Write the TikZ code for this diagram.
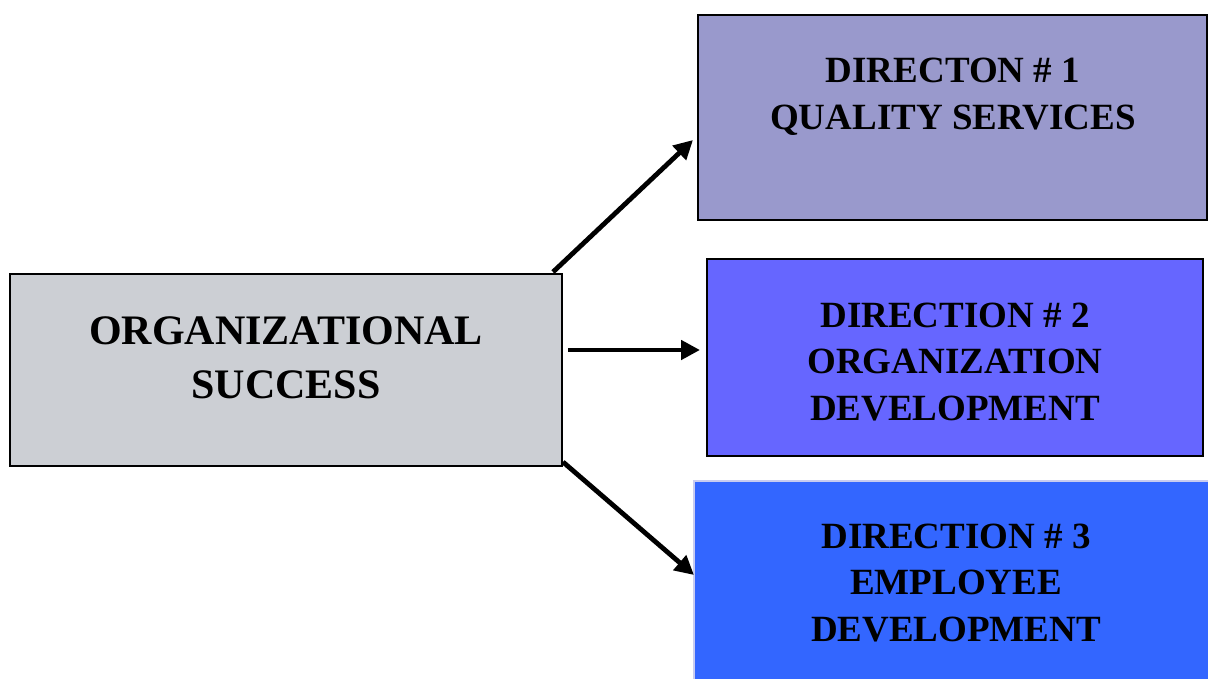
\documentclass[tikz,border=0pt]{standalone}
\usepackage{fontspec}
\setmainfont{Liberation Serif}
\usetikzlibrary{arrows.meta}
\definecolor{cgray}{HTML}{CCCFD4}
\definecolor{cone}{HTML}{9999CC}
\definecolor{ctwo}{HTML}{6666FF}
\definecolor{cthree}{HTML}{3366FF}
\definecolor{cthreeb}{HTML}{C8CCF0}
\begin{document}
\begin{tikzpicture}[x=1pt,y=-1pt,
  boxstyle/.style={draw=black,line width=1.6pt},
  bigtext/.style={font=\fontsize{42}{54}\selectfont\bfseries,align=center,inner sep=0pt},
  dirtext/.style={font=\fontsize{37}{46.5}\selectfont\bfseries,align=center,inner sep=0pt},
  arr/.style={line width=4.8pt,-{Triangle[length=19pt,width=19pt]}}]
\useasboundingbox (0,0) rectangle (1208,679);
% boxes
\draw[boxstyle,fill=cgray] (10,274) rectangle (562,466);
\coordinate (osne) at (553,272);
\coordinate (ose) at (568,350);
\coordinate (osse) at (563,462);
\draw[boxstyle,fill=cone] (698,15) rectangle (1207,220);
\draw[boxstyle,fill=ctwo] (707,259) rectangle (1203,456);
\draw[draw=cthreeb,line width=1.5pt,fill=cthree] (694,481) rectangle (1212,684);
% texts
\node[bigtext] (os) at (286,358) {ORGANIZATIONAL\\SUCCESS};
\node[dirtext] (d1) at (953,97) {DIRECTON \# 1\\QUALITY SERVICES};
\node[dirtext] (d2) at (955,362) {DIRECTION \# 2\\ORGANIZATION\\DEVELOPMENT};
\node[dirtext] (d3) at (956,583) {DIRECTION \# 3\\EMPLOYEE\\DEVELOPMENT};
% arrow targets
\coordinate (t1) at (693,140);
\coordinate (t2) at (700,350);
\coordinate (t3) at (694,575);
\draw[arr] (osne) -- (t1);
\draw[arr] (ose) -- (t2);
\draw[arr] (osse) -- (t3);
\end{tikzpicture}
\end{document}
